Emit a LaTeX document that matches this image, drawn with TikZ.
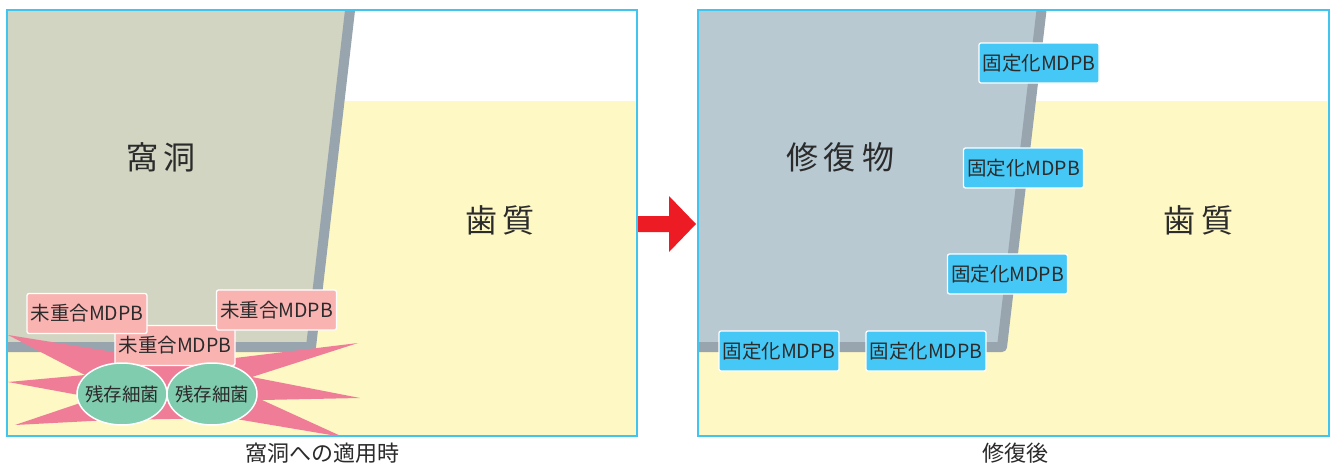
\documentclass[tikz,border=0pt]{standalone}
\usepackage{fontspec}
\setmainfont{Noto Sans CJK JP}
\definecolor{framec}{HTML}{40C4F0}
\definecolor{yellowc}{HTML}{FEF8C4}
\definecolor{cavityc}{HTML}{D1D5C2}
\definecolor{restc}{HTML}{B8C9D2}
\definecolor{wallc}{HTML}{98A4AE}
\definecolor{pinkbox}{HTML}{F9B4B2}
\definecolor{burstc}{HTML}{F07D97}
\definecolor{greenc}{HTML}{80CCAE}
\definecolor{bluebox}{HTML}{45C8F5}
\definecolor{redc}{HTML}{ED1C24}
\definecolor{txtc}{HTML}{2B2B2B}
\begin{document}
\begin{tikzpicture}[x=1pt,y=-1pt,
  bigtxt/.style={text=txtc, font=\fontsize{32}{36}\selectfont, inner sep=0pt},
  captxt/.style={text=txtc, font=\fontsize{22}{26}\selectfont, inner sep=0pt},
  pinklabel/.style={fill=pinkbox, draw=white, line width=1.3pt, rounded corners=2pt,
     minimum width=120pt, minimum height=40pt, inner sep=0pt, text=txtc,
     font=\fontsize{19.5}{21}\selectfont},
  bluelabel/.style={fill=bluebox, draw=white, line width=1.3pt, rounded corners=2pt,
     minimum width=120pt, minimum height=40pt, inner sep=0pt, text=txtc,
     font=\fontsize{19.5}{21}\selectfont},
  germshape/.style={fill=greenc, draw=white, line width=1.5pt},
  germ/.style={inner sep=0pt, text=txtc, font=\fontsize{18.5}{20}\selectfont},
  wall/.style={wallc, line width=10pt, line join=round},
  frame/.style={draw=framec, line width=1.8pt}
]
\useasboundingbox[fill=white] (0,0) rectangle (1335,466);

% ---------- left panel ----------
\begin{scope}
  \clip (7,10) rectangle (637,436);
  \fill[yellowc] (7,101) rectangle (637,436);
  \fill[cavityc] (7,10) -- (350,10) -- (311,347) -- (7,347) -- cycle;
  \draw[wall] (351.2,0) -- (311,347) -- (0,347);
  % starburst
  \fill[burstc] (8,335) -- (120,353) -- (235,358) -- (358,343) -- (252,377)
     -- (360,398) -- (262,400) -- (343,437) -- (230,418) -- (110,420)
     -- (15,425) -- (95,398) -- (8,382) -- (85,375) -- cycle;
\end{scope}

\node[pinklabel] (p3) at (175,345.5) {未重合MDPB};
\node[pinklabel] (p1) at (87,313.5) {未重合MDPB};
\node[pinklabel] (p2) at (276.5,310) {未重合MDPB};
\filldraw[germshape] (122,394) ellipse [x radius=45, y radius=31];
\node[germ] (g1) at (122,394) {残存細菌};
\filldraw[germshape] (212,394) ellipse [x radius=45, y radius=31];
\node[germ] (g2) at (212,394) {残存細菌};

\node[bigtxt] (cav) at (161,157) {窩\hspace{6pt}洞};
\node[bigtxt] (dent1) at (500,220) {歯\hspace{6pt}質};
\draw[frame] (7,10) rectangle (637,436);
\node[captxt] (cap1) at (322,453) {窩洞への適用時};

% ---------- arrow ----------
\fill[redc] (638,216) -- (669,216) -- (669,196) -- (696,224) -- (669,252)
   -- (669,232) -- (638,232) -- cycle;

% ---------- right panel ----------
\begin{scope}
  \clip (698,10) rectangle (1329,436);
  \fill[yellowc] (698,101) rectangle (1329,436);
  \fill[restc] (698,10) -- (1041.5,10) -- (1002,347) -- (698,347) -- cycle;
  \draw[wall] (1042.7,0) -- (1002,347) -- (690,347);
\end{scope}

\node[bigtxt] (rest) at (840,157) {修\hspace{6pt}復\hspace{6pt}物};
\node[bigtxt] (dent2) at (1198,220) {歯\hspace{6pt}質};

\node[bluelabel] (b1) at (1039,63) {固定化MDPB};
\node[bluelabel] (b2) at (1023.5,168) {固定化MDPB};
\node[bluelabel] (b3) at (1007.5,274) {固定化MDPB};
\node[bluelabel] (b4) at (779,351) {固定化MDPB};
\node[bluelabel] (b5) at (926,351) {固定化MDPB};

\draw[frame] (698,10) rectangle (1329,436);
\node[captxt] (cap2) at (1015,453) {修復後};
\end{tikzpicture}
\end{document}
